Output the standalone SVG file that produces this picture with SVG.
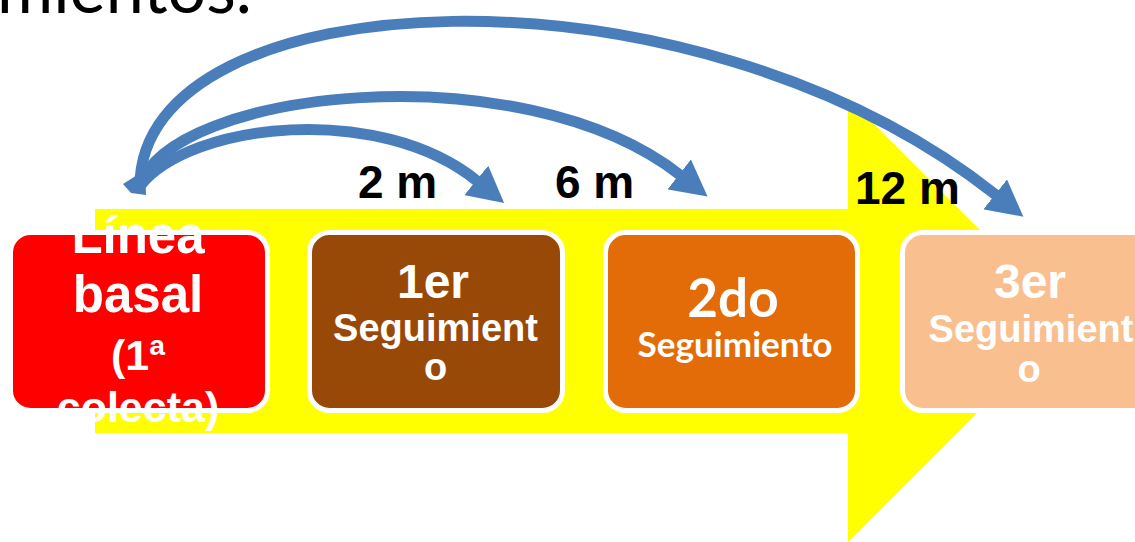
<svg xmlns="http://www.w3.org/2000/svg" width="1135" height="542" viewBox="0 0 1135 542">
  <style>
    .box { stroke: #FFFFFF; stroke-width: 5; }
    .arial { font-family: "Liberation Sans", Arial, sans-serif; font-weight: bold; fill: #FFFFFF; text-anchor: middle; }
    .lato { font-family: Lato, "Open Sans", sans-serif; font-weight: bold; fill: #FFFFFF; text-anchor: middle; }
    .lbl { font-family: "Liberation Sans", Arial, sans-serif; font-weight: bold; fill: #000000; font-size: 46px; }
    .arc { fill: none; stroke: #4A7EBB; stroke-width: 11; marker-end: url(#head); }
  </style>
  <defs>
    <marker id="head" viewBox="0 0 36 38" markerUnits="userSpaceOnUse" markerWidth="36" markerHeight="38" refX="1" refY="19" orient="auto">
      <path d="M0,0 L36,19 L0,38 Z" fill="#4A7EBB"/>
    </marker>
  </defs>

  <rect width="1135" height="542" fill="#FFFFFF"/>

  <!-- heading text running off the top edge -->
  <text x="-3" y="13" font-family="Lato, 'Open Sans', sans-serif" font-size="70" fill="#000000" textLength="255" lengthAdjust="spacingAndGlyphs">mientos.</text>

  <!-- broad yellow timeline arrow -->
  <polygon id="timeline" points="95,209 848,209 848,98 1070,320 848,542 848,433 95,433" fill="#FFFF00"/>

  <g id="baseline">
    <rect class="box" x="10.5" y="232.5" width="257" height="178" rx="20" fill="#FF0000"/>
    <text class="arial" x="138" y="253" font-size="51">Línea</text>
    <text class="arial" x="138" y="312" font-size="51">basal</text>
    <text class="arial" x="138" y="370" font-size="43">(1ª</text>
    <text class="arial" x="138" y="422" font-size="43">colecta)</text>
  </g>

  <g id="followup1">
    <rect class="box" x="309.5" y="232.5" width="253" height="178" rx="20" fill="#984807"/>
    <text class="arial" x="433" y="298" font-size="48">1er</text>
    <text class="arial" x="435.5" y="341" font-size="38">Seguimient</text>
    <text class="arial" x="435.5" y="380" font-size="38">o</text>
  </g>

  <g id="followup2">
    <rect class="box" x="605.5" y="232.5" width="252" height="178" rx="20" fill="#E36C09"/>
    <text class="lato" x="733" y="317" font-size="53">2do</text>
    <text class="lato" x="735" y="357" font-size="34" textLength="195" lengthAdjust="spacingAndGlyphs">Seguimiento</text>
  </g>

  <g id="followup3">
    <rect class="box" x="902.5" y="232.5" width="260" height="178" rx="20" fill="#F9BF8F"/>
    <text class="arial" x="1030" y="298" font-size="48">3er</text>
    <text class="arial" x="1031" y="342" font-size="38">Seguimient</text>
    <text class="arial" x="1029" y="382" font-size="38">o</text>
  </g>

  <g id="connectors">
    <polygon points="123,184 145,170 146,195 131,193" fill="#4A7EBB"/>
    <path class="arc" d="M140,186 C190,122 380,102 477,181"/>
    <path class="arc" d="M140,186 C170,90 520,50 680,175"/>
    <path class="arc" d="M140,186 C140,-20 687,-50 996,195"/>
  </g>

  <g id="labels">
    <text class="lbl" x="358" y="198">2 m</text>
    <text class="lbl" x="555" y="198">6 m</text>
    <text class="lbl" x="855" y="204">12 m</text>
  </g>
</svg>
